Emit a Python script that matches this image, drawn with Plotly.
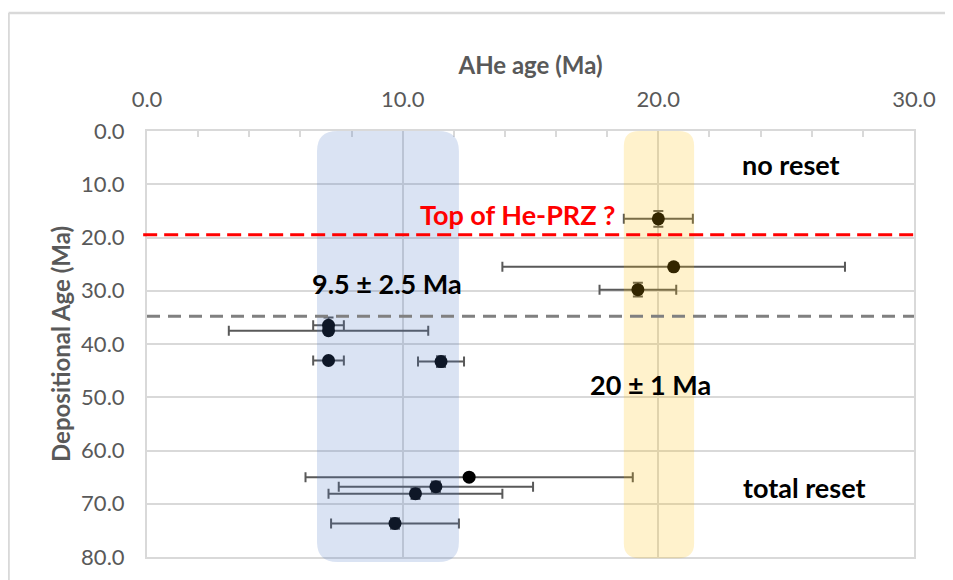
import plotly.graph_objects as go

# AHe ages vs depositional ages
ahe_age = [20.0, 20.6, 19.2, 7.1, 7.1, 7.1, 11.5, 12.6, 11.3, 10.5, 9.7]
dep_age = [16.5, 25.5, 29.8, 36.5, 37.5, 43.1, 43.3, 65.0, 66.8, 68.1, 73.7]
ahe_err = [1.35, 6.7, 1.5, 0.6, 3.9, 0.6, 0.9, 6.4, 3.8, 3.4, 2.5]
dep_err = [1.5, 0, 1.3, 1.5, 0, 0.4, 1.0, 0, 1.0, 1.0, 1.0]

prz_top = 19.5       # red dashed line
reset_line = 34.8    # grey dashed line
blue_band = (6.65, 12.2)
yellow_band = (18.65, 21.4)

FONT = "Lato"
GREY = "#595959"
GRID = "#d9d9d9"

fig = go.Figure()
fig.add_trace(go.Scatter(
    x=ahe_age, y=dep_age, mode="markers",
    marker=dict(color="black", size=13),
    error_x=dict(type="data", array=ahe_err, color=GREY, thickness=2, width=5),
    error_y=dict(type="data", array=dep_err, color=GREY, thickness=2, width=5),
    showlegend=False,
))


def rounded_band(x0, x1, y0, y1, rx, ry):
    # rounded rectangle path, x in data units, y in paper units
    return (f"M {x0+rx},{y1} L {x1-rx},{y1} Q {x1},{y1} {x1},{y1-ry} "
            f"L {x1},{y0+ry} Q {x1},{y0} {x1-rx},{y0} L {x0+rx},{y0} "
            f"Q {x0},{y0} {x0},{y0+ry} L {x0},{y1-ry} Q {x0},{y1} {x0+rx},{y1} Z")


fig.add_shape(type="path", xref="x", yref="paper", layer="above",
              path=rounded_band(blue_band[0], blue_band[1], -0.012, 1.0, 0.8, 0.047),
              fillcolor="#4472C4", opacity=0.2, line_width=0)
fig.add_shape(type="path", xref="x", yref="paper", layer="above",
              path=rounded_band(yellow_band[0], yellow_band[1], -0.003, 1.0, 0.6, 0.035),
              fillcolor="#FFC000", opacity=0.2, line_width=0)

fig.add_shape(type="line", xref="paper", yref="y", x0=-0.005, x1=1, y0=prz_top, y1=prz_top,
              line=dict(color="#FF0000", width=3, dash="14px,7px"), layer="above")
fig.add_shape(type="line", xref="paper", yref="y", x0=0, x1=1, y0=reset_line, y1=reset_line,
              line=dict(color="#808080", width=3, dash="13px,8px"), layer="above")

# outer chart frame
fig.add_shape(type="line", xref="paper", yref="paper", x0=-0.1805, x1=1.2,
              y0=1.277, y1=1.277, line=dict(color=GRID, width=2.5))
fig.add_shape(type="line", xref="paper", yref="paper", x0=-0.1805, x1=-0.1805,
              y0=-0.2, y1=1.277, line=dict(color=GRID, width=2.5))

labels = [
    (25.2, 6.2, "no reset", "black"),
    (14.5, 15.7, "Top of He-PRZ ?", "#FF0000"),
    (9.4, 28.6, "9.5 ± 2.5 Ma", "black"),
    (19.7, 47.6, "20 ± 1 Ma", "black"),
    (25.7, 67.0, "total reset", "black"),
]
for x, y, t, c in labels:
    fig.add_annotation(x=x, y=y, text=f"<b>{t}</b>", showarrow=False,
                       font=dict(family=FONT, size=27, color=c))

fig.update_xaxes(
    side="top", range=[0, 30], dtick=10, tickformat=".1f",
    showgrid=True, gridcolor=GRID, gridwidth=2, zeroline=False,
    showline=True, linecolor=GRID, linewidth=2, mirror=True,
    ticks="inside", ticklen=6, tickcolor=GRID, tickwidth=2,
    minor=dict(dtick=2, ticks="inside", ticklen=6, tickcolor=GRID, showgrid=False),
    ticklabelstandoff=13,
    tickfont=dict(family=FONT, size=22, color=GREY),
    title=dict(text="<b>AHe age (Ma)</b>", standoff=4,
               font=dict(family=FONT, size=24, color=GREY)),
)
fig.update_yaxes(
    range=[80, 0], dtick=10, tickformat=".1f",
    showgrid=True, gridcolor=GRID, gridwidth=2, zeroline=False,
    showline=True, linecolor=GRID, linewidth=2, mirror=True,
    ticklabelstandoff=16, automargin=False,
    tickfont=dict(family=FONT, size=22, color=GREY),
    title=dict(text="<b>Depositional Age (Ma)</b>", standoff=4,
               font=dict(family=FONT, size=24, color=GREY)),
)
# the page adds an 8px body margin, so the figure is 8px smaller
fig.update_layout(
    width=945, height=572,
    margin=dict(l=139, r=39, t=123, b=23),
    plot_bgcolor="white", paper_bgcolor="white",
)
fig.write_html("out.html")
